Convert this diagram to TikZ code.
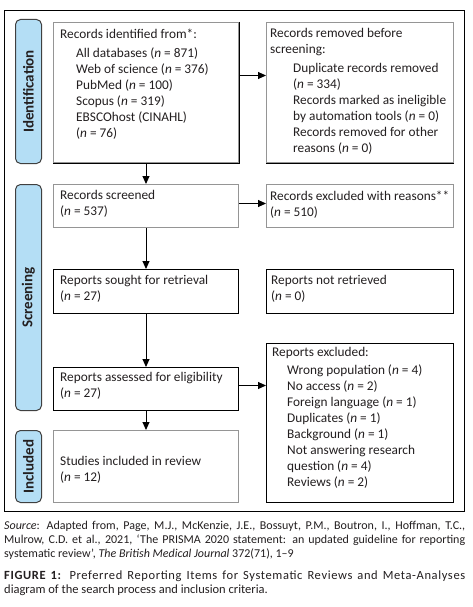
\documentclass[tikz,border=0pt]{standalone}
\usepackage{fontspec}
\setmainfont{Carlito}
\usetikzlibrary{arrows.meta,calc}
\definecolor{barblue}{HTML}{B4DEF5}
\definecolor{boxgray}{HTML}{959595}
\definecolor{txt}{HTML}{231F20}
\begin{document}
\begin{tikzpicture}[x=1pt,y=-1pt,
 blackbox/.style={draw=black,line width=1pt,inner sep=0pt,anchor=north west},
 graybox/.style={draw=boxgray,line width=1pt,inner sep=0pt,anchor=north west},
 bar/.style={draw=black!75,fill=barblue,line width=1pt,rounded corners=5pt,inner sep=0pt,anchor=north west,minimum width=26pt},
 barlabel/.style={rotate=90,inner sep=0pt,font={\fontsize{15}{17}\selectfont\bfseries},text=txt},
 boxtext/.style={anchor=north west,inner sep=0pt,align=left,text=txt,font={\fontsize{13.3}{16}\selectfont}},
 captext/.style={anchor=north west,inner sep=0pt,text width=461pt,align=justify,text=txt},
 arrow/.style={line width=1pt,-{Triangle[length=8pt,width=7pt]}},
]
\useasboundingbox (0,0) rectangle (472,607);
\fill[white] (0,0) rectangle (472,607);
% outer frame
\node[blackbox,minimum width=460pt,minimum height=501pt] (frame) at (4,10) {};
% side bars
\node[bar,minimum height=144pt] (barI) at (15,19) {};
\node[barlabel] (labI) at (barI.center) {Identification};
\node[bar,minimum height=226pt] (barS) at (15,184) {};
\node[barlabel] (labS) at (barS.center) {Screening};
\node[bar,minimum height=72pt] (barN) at (15,430) {};
\node[barlabel] (labN) at (barN.center) {Included};
% boxes
\node[graybox,minimum width=185pt,minimum height=140pt] (ident) at (53,22) {};
\draw[line width=1pt] (ident.north east) -- (ident.south east) -- (ident.south west);
\node[graybox,minimum width=187pt,minimum height=140pt] (removed) at (266,22) {};
\draw[line width=1pt] (removed.south east) -- (removed.south west);
\node[graybox,minimum width=185pt,minimum height=43pt] (screened) at (53,184) {};
\node[graybox,minimum width=187pt,minimum height=43pt] (excluded) at (266,184) {};
\node[blackbox,minimum width=185pt,minimum height=44pt] (sought) at (53,269) {};
\node[blackbox,minimum width=187pt,minimum height=44pt] (notret) at (266,269) {};
\node[blackbox,minimum width=185pt,minimum height=43pt] (assessed) at (53,367) {};
\node[blackbox,minimum width=187pt,minimum height=159pt] (repexcl) at (266,343) {};
\node[graybox,minimum width=185pt,minimum height=72pt] (studies) at (53,430) {};
% texts
\node[boxtext] (identtxt) at (60,28.5) {Records identified from*:\\[3pt]
\hspace*{16pt}All databases (\textit{n} = 871)\\
\hspace*{16pt}Web of science (\textit{n} = 376)\\
\hspace*{16pt}PubMed (\textit{n} = 100)\\
\hspace*{16pt}Scopus (\textit{n} = 319)\\
\hspace*{16pt}EBSCOhost (CINAHL)\\
\hspace*{16pt}(\textit{n} = 76)};
\node[boxtext] (removedtxt) at (270,28.5) {Records removed before\\
screening:\\[3pt]
\hspace*{23pt}Duplicate records removed\\
\hspace*{23pt}(\textit{n} = 334)\\
\hspace*{23pt}Records marked as ineligible\\
\hspace*{23pt}by automation tools (\textit{n} = 0)\\
\hspace*{23pt}Records removed for other\\
\hspace*{23pt}reasons (\textit{n} = 0)};
\node[boxtext] (screenedtxt) at (60,190.5) {Records screened\\(\textit{n} = 537)};
\node[boxtext] (excludedtxt) at (270,190.5) {Records excluded with reasons**\\(\textit{n} = 510)};
\node[boxtext] (soughttxt) at (60,275.5) {Reports sought for retrieval\\(\textit{n} = 27)};
\node[boxtext] (notrettxt) at (271,275.5) {Reports not retrieved\\(\textit{n} = 0)};
\node[boxtext] (assessedtxt) at (60,372.5) {Reports assessed for eligibility\\(\textit{n} = 27)};
\node[boxtext] (repexcltxt) at (272,347.5) {Reports excluded:\\[2pt]
\hspace*{15pt}Wrong population (\textit{n} = 4)\\
\hspace*{15pt}No access (\textit{n} = 2)\\
\hspace*{15pt}Foreign language (\textit{n} = 1)\\
\hspace*{15pt}Duplicates (\textit{n} = 1)\\
\hspace*{15pt}Background (\textit{n} = 1)\\
\hspace*{15pt}Not answering research\\
\hspace*{15pt}question (\textit{n} = 4)\\
\hspace*{15pt}Reviews (\textit{n} = 2)};
\node[boxtext] (studiestxt) at (60,456.5) {Studies included in review\\(\textit{n} = 12)};
% arrows
\draw[arrow] (ident.south) -- (screened.north);
\draw[arrow] (screened.south) -- (sought.north);
\draw[arrow] (sought.south) -- (assessed.north);
\draw[arrow] (assessed.south) -- (studies.north);
\draw[arrow] ([yshift=17pt]ident.east) -- ([yshift=17pt]removed.west);
\draw[arrow] ([yshift=2.5pt]screened.east) -- ([yshift=2.5pt]excluded.west);
\coordinate (ae) at ([yshift=3.5pt]assessed.east);
\draw[arrow] (ae) -- (ae -| repexcl.west);
% captions
\node[captext,font={\fontsize{12}{14}\selectfont}] (source) at (4,520.5) {\textit{Source}: Adapted from, Page, M.J., McKenzie, J.E., Bossuyt, P.M., Boutron, I., Hoffman, T.C.,\linebreak Mulrow, C.D. et al., 2021, ‘The PRISMA 2020 statement: an updated guideline for reporting\linebreak systematic review’, \textit{The British Medical Journal} 372(71), 1–9};
\node[captext,font={\fontsize{12.5}{14}\selectfont}] (figcap) at (4,570.5) {{\addfontfeatures{LetterSpace=5}\textbf{FIGURE 1:} Preferred Reporting Items for Systematic Reviews and Meta-Analyses}\linebreak diagram of the search process and inclusion criteria.};
\end{tikzpicture}
\end{document}
